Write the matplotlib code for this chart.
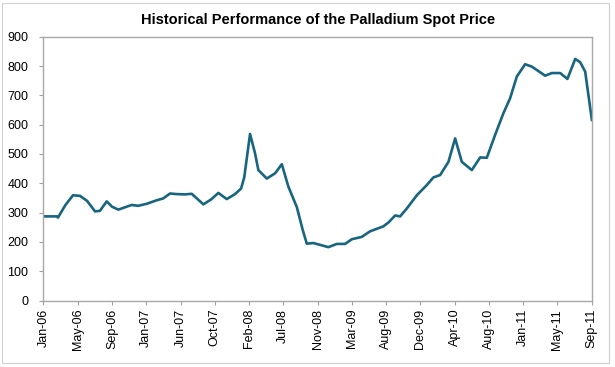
import matplotlib
matplotlib.use("Agg")
import matplotlib.pyplot as plt
from matplotlib.patches import Rectangle
import numpy as np

plt.rcParams['font.family'] = ['Liberation Sans', 'DejaVu Sans']

# months since Jan-06 and spot price (USD/oz)
months = [0.0, 1.64, 1.80, 2.7, 3.66, 4.53, 5.4, 6.39, 7.0, 7.84, 8.5, 9.28, 10.94, 11.73,
          12.81, 14.05, 14.83, 15.70, 16.53, 17.56, 18.39, 19.83, 20.8, 21.69, 22.73,
          23.76, 24.51, 24.9, 25.62, 26.24, 26.65, 27.70, 28.73, 29.56, 30.38, 31.42,
          32.16, 32.66, 33.48, 35.34, 36.38, 37.41, 38.24, 39.48, 40.51, 42.16, 42.78,
          43.62, 44.24, 45.07, 46.31, 47.55, 48.37, 49.20, 50.23, 51.06, 51.89, 53.13,
          54.16, 54.99, 56.02, 57.05, 57.88, 58.71, 59.74, 60.57, 62.22, 63.06, 64.09,
          64.99, 65.95, 66.57, 67.19, 68.02]
prices = [287, 287, 283, 325, 359, 357, 340, 304, 306, 338, 320, 310, 326, 323,
          330, 342, 348, 365, 363, 362, 364, 328, 345, 367, 346,
          363, 382, 420, 568, 502, 445, 416, 434, 465, 388, 319,
          240, 194, 196, 182, 193, 193, 209, 217, 236, 253, 266,
          290, 287, 314, 359, 394, 420, 428, 473, 553, 473, 445,
          488, 487, 565, 639, 690, 764, 806, 798, 767, 776, 776,
          756, 824, 813, 781, 616]

tick_labels = ["Jan-06", "May-06", "Sep-06", "Jan-07", "Jun-07", "Oct-07", "Feb-08",
               "Jul-08", "Nov-08", "Mar-09", "Aug-09", "Dec-09", "Apr-10", "Aug-10",
               "Jan-11", "May-11", "Sep-11"]
y_ticks = [0, 100, 200, 300, 400, 500, 600, 700, 800, 900]
title = "Historical Performance of the Palladium Spot Price"

W, H = 615, 367
fig = plt.figure(figsize=(W / 100, H / 100), dpi=100)

# outer frame
fig.patches.append(Rectangle((2 / W, 4 / H), 607 / W, 360 / H, transform=fig.transFigure,
                             facecolor="white", edgecolor="#d0d0d0", linewidth=0.8, zorder=-2))

ax = fig.add_axes([43.5 / W, (H - 300.5) / H, (591.7 - 43.5) / W, (300.5 - 36.7) / H])
ax.plot(months, prices, color="#17657f", linewidth=1.9, solid_joinstyle="round")

ax.set_xlim(0, 68)
ax.set_ylim(0, 900)
ax.set_yticks(y_ticks)
ax.set_xticks(np.linspace(0, 68, len(tick_labels)))
ax.set_xticklabels(tick_labels, rotation=90, fontsize=9)
ax.tick_params(axis="y", labelsize=9, length=3, color="#a0a0a0", pad=8)
ax.tick_params(axis="x", length=3, color="#a0a0a0", pad=3)
for s in ax.spines.values():
    s.set_color("#a8a8a8")
    s.set_linewidth(1.0)

fig.text(318 / W, 1 - 20 / H, title, ha="center", va="center", fontsize=10.5,
         fontweight="bold")

fig.savefig("out.png", dpi=100)
